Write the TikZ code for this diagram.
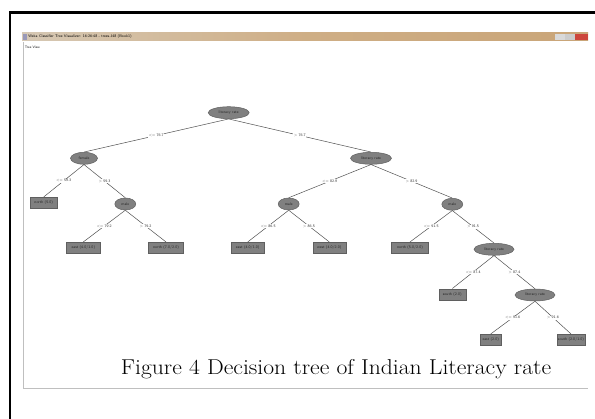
\documentclass[tikz,border=0pt]{standalone}
\usetikzlibrary{shapes.geometric}

\definecolor{nodefill}{RGB}{128,128,128}
\definecolor{nodeedge}{RGB}{95,95,95}
\definecolor{linkgrey}{RGB}{80,80,80}
\definecolor{bartan}{RGB}{201,165,120}
\definecolor{barlight}{RGB}{214,200,180}
\definecolor{closered}{RGB}{205,70,60}

\begin{document}
\begin{tikzpicture}
	[x=1pt,y=-1pt,line width=0.5pt,
		tiny text/.style={font=\fontsize{3.8}{4.2}\selectfont\sffamily},
		split node/.style={ellipse,draw=nodeedge,fill=nodefill,inner sep=0pt,minimum height=12pt,tiny text,text=black!85},
		leaf node/.style={rectangle,draw=nodeedge,fill=nodefill,inner sep=0pt,minimum height=11pt,tiny text,text=black!85},
		cut/.style={fill=white,inner sep=0.6pt,tiny text,text=black!80}]

	\useasboundingbox (0,0) rectangle (595,419);

	% page frame and screenshot window
	\draw[line width=2.5pt] (10,419) -- (10,12.5) -- (595,12.5);
	\draw[black!25,line width=0.6pt] (23.5,42) -- (23.5,388) -- (588,388);
	\shade[left color=barlight,right color=bartan,middle color=bartan!90!white] (22,33) rectangle (588,41);
	\fill[black!15] (555,34) rectangle (565,40);
	\fill[black!20] (565,34) rectangle (575,40);
	\fill[closered] (575,34) rectangle (588,40);
	\fill[blue!30!black!40] (23,34) rectangle (26.5,40);
	\node[tiny text,anchor=west,inner sep=0pt] (title) at (28,37) {Weka Classifier Tree Visualizer: 16:26:48 - trees.J48 (Book1)};
	\node[tiny text,anchor=west,inner sep=0pt,font=\fontsize{3.4}{4}\selectfont\sffamily] (view) at (24.5,47.5) {Tree View};

	% tree nodes
	\node[split node,minimum width=41pt] (LR)  at (228.7,112.7) {literacy rate};
	\node[split node,minimum width=27pt] (F)   at (84,158.3)    {female};
	\node[split node,minimum width=41pt] (LR1) at (371,158.3)   {literacy rate};
	\node[leaf node,minimum width=27pt]  (N1)  at (43.7,202.7)  {north (5.0)};
	\node[split node,minimum width=21pt] (M1)  at (125.3,204)   {male};
	\node[split node,minimum width=21pt] (M2)  at (288.7,204)   {male};
	\node[split node,minimum width=21pt] (M3)  at (452.3,204.3) {male};
	\node[leaf node,minimum width=34pt]  (E1)  at (83.3,247.7)  {east (4.0/1.0)};
	\node[leaf node,minimum width=35pt]  (N2)  at (166,247.7)   {north (7.0/2.0)};
	\node[leaf node,minimum width=33pt]  (E2)  at (247.7,247.7) {east (4.0/1.0)};
	\node[leaf node,minimum width=33pt]  (W1)  at (329.3,247.7) {west (4.0/2.0)};
	\node[leaf node,minimum width=37pt]  (N3)  at (410,247.7)   {north (5.0/2.0)};
	\node[split node,minimum width=40pt] (LR2) at (494,249.3)   {literacy rate};
	\node[leaf node,minimum width=27pt]  (S1)  at (452.3,294.3) {south (2.0)};
	\node[split node,minimum width=40pt] (LR3) at (535,295)     {literacy rate};
	\node[leaf node,minimum width=21pt]  (E3)  at (490.7,339.7) {east (2.0)};
	\node[leaf node,minimum width=28pt]  (S2)  at (571,339.7)   {south (2.0/1.0)};

	% branches
	\path[draw=linkgrey]
	(LR.south) edge node[cut] {<= 76.7} (F.north)
	edge node[cut] {> 76.7} (LR1.north)
	(F.south) edge node[cut] {<= 59.3} (N1.north)
	edge node[cut] {> 59.3} (M1.north)
	(M1.south) edge node[cut] {<= 79.2} (E1.north)
	edge node[cut] {> 79.2} (N2.north)
	(LR1.south) edge node[cut] {<= 82.9} (M2.north)
	edge node[cut] {> 82.9} (M3.north)
	(M2.south) edge node[cut] {<= 86.5} (E2.north)
	edge node[cut] {> 86.5} (W1.north)
	(M3.south) edge node[cut] {<= 91.5} (N3.north)
	edge node[cut] {> 91.5} (LR2.north)
	(LR2.south) edge node[cut] {<= 87.4} (S1.north)
	edge node[cut] {> 87.4} (LR3.north)
	(LR3.south) edge node[cut] {<= 91.6} (E3.north)
	edge node[cut] {> 91.6} (S2.north)
	;

	% caption
	\node[font=\fontsize{21.5}{25}\selectfont,xscale=1.1] (caption) at (336,369) {Figure 4 Decision tree of Indian Literacy rate};

\end{tikzpicture}
\end{document}
